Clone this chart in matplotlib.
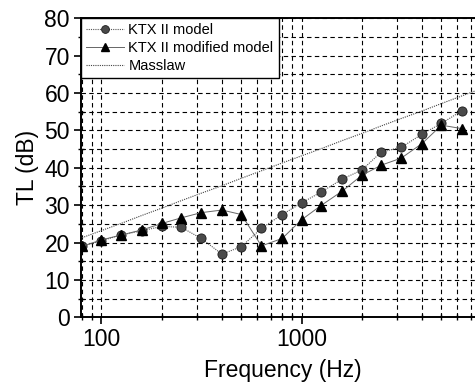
import matplotlib
matplotlib.use("Agg")
import matplotlib.pyplot as plt
from matplotlib.ticker import MultipleLocator, LogLocator, NullFormatter, FixedLocator, FuncFormatter

plt.rcParams['font.family'] = ['Liberation Sans', 'DejaVu Sans']

freq = [80, 100, 125, 160, 200, 250, 315, 400, 500, 630, 800, 1000,
        1250, 1600, 2000, 2500, 3150, 4000, 5000, 6300]
ktx_model = [19.0, 20.5, 22.0, 23.2, 24.3, 24.1, 21.1, 16.9, 18.9, 23.8, 27.5, 30.6,
             33.5, 37.0, 39.4, 44.2, 45.5, 49.0, 51.9, 55.2]
ktx_modified = [19.0, 20.7, 22.0, 23.4, 25.1, 26.6, 28.0, 28.7, 27.5, 19.1, 21.1, 26.1,
                29.9, 33.8, 38.0, 40.7, 42.6, 46.5, 51.4, 50.5]
mass_freq = [80, 100, 125, 160, 200, 250, 315, 400, 500, 630, 800, 1000, 1250,
             1600, 2000, 2500, 3150, 4000, 5000, 6300, 8000, 10000]
masslaw = [21.3, 23.2, 25.1, 27.3, 29.2, 31.2, 33.2, 35.2, 37.2, 39.2, 41.3, 43.2,
           45.1, 47.3, 49.2, 51.2, 53.2, 55.2, 57.2, 59.2, 61.3, 63.2]
x_ticks = [100, 1000]

W, H = 475, 392
fig = plt.figure(figsize=(W / 100, H / 100), dpi=100)
ax = fig.add_axes([81 / W, (H - 317.3) / H, 420.7 / W, 299 / H])

ax.set_xscale('log')
ax.set_xlim(79, 10000)
ax.set_ylim(0, 80)

ax.plot(mass_freq, masslaw, ls=(0, (1, 1)), color='#444444', lw=0.8, label='Masslaw', zorder=3)
ax.plot(freq, ktx_model, ls=(0, (1, 1)), color='#555555', lw=0.8, marker='o', ms=6.6,
        mfc='#4a4a4a', mec='#1a1a1a', mew=0.6, label='KTX II model', zorder=4)
ax.plot(freq, ktx_modified, ls='-', color='#666666', lw=0.7, marker='^', ms=7.5,
        mfc='black', mec='black', label='KTX II modified model', zorder=5)

ax.yaxis.set_major_locator(MultipleLocator(10))
ax.yaxis.set_minor_locator(MultipleLocator(5))
ax.xaxis.set_major_locator(FixedLocator(x_ticks))
ax.xaxis.set_minor_locator(LogLocator(base=10, subs=range(2, 10)))
ax.xaxis.set_minor_formatter(NullFormatter())
ax.xaxis.set_major_formatter(FuncFormatter(lambda v, p: f"{int(round(v))}"))

ax.grid(True, which='both', ls=(0, (4, 3)), color='black', lw=0.8, zorder=1)
ax.set_axisbelow(True)

ax.tick_params(which='major', direction='out', length=5, width=1.2, labelsize=16.5, pad=3,
               colors='black')
ax.tick_params(which='minor', direction='inout', length=5, width=1.0)
for s in ['left', 'bottom', 'top']:
    ax.spines[s].set_linewidth(1.4)
ax.spines['right'].set_visible(False)

ax.set_ylabel('TL (dB)', fontsize=16.5, va='center')
ax.yaxis.set_label_coords(-0.128, 0.5)
ax.set_xlabel('Frequency (Hz)', fontsize=16.5, va='baseline')
ax.xaxis.set_label_coords(0.48, -0.199)

h, l = ax.get_legend_handles_labels()
order = [1, 2, 0]
leg = ax.legend([h[i] for i in order], [l[i] for i in order], loc='upper left',
                bbox_to_anchor=(0, 1), borderaxespad=0, fontsize=10.5, frameon=True,
                fancybox=False, edgecolor='black', framealpha=1, handlelength=2.6,
                handletextpad=0.3, labelspacing=0.25, borderpad=0.35, markerscale=0.85)
leg.get_frame().set_linewidth(1.0)
leg.set_zorder(10)

fig.savefig('out.png', dpi=100)
